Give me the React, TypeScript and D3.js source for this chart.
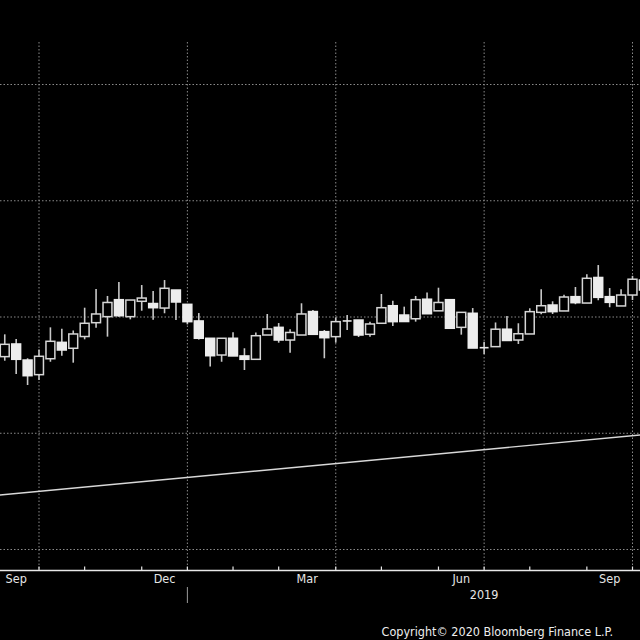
import React from "react";
import * as d3 from "d3";

// weekly bars, Mon Sep 10 2018 .. Mon Oct 7 2019
const firstWeek = new Date(2018, 8, 10);
const lastWeek = new Date(2019, 9, 7);

const opens = [26.59, 27.68, 26.3, 25.04, 26.41, 27.82, 27.31, 28.32, 29.51, 30.03, 31.49, 30.03, 31.35, 31.16, 30.77, 32.32, 31.09, 29.66, 28.17, 26.73, 28.17, 26.65, 26.36, 28.45, 29.11, 28.02, 28.45, 30.47, 28.74, 28.31, 29.66, 29.74, 28.51, 29.46, 30.97, 30.17, 29.85, 31.53, 30.53, 31.49, 29.11, 30.32, 27.36, 27.45, 28.95, 28.02, 28.54, 30.4, 31.03, 30.52, 31.75, 31.2, 33.4, 31.75, 30.95, 31.89, 33.18];
const closes = [27.65, 26.36, 24.95, 26.62, 27.91, 27.16, 28.54, 29.46, 30.26, 31.25, 30.11, 31.46, 31.63, 30.8, 32.47, 31.29, 29.6, 28.17, 26.67, 28.17, 26.65, 26.36, 28.39, 28.97, 28.02, 28.67, 30.26, 28.51, 28.22, 29.6, 29.66, 28.45, 29.4, 30.8, 29.6, 29.61, 31.49, 30.28, 31.25, 29.03, 30.4, 27.33, 27.36, 28.95, 27.98, 28.56, 30.46, 30.97, 30.46, 31.72, 31.23, 33.33, 31.69, 31.26, 31.89, 33.25, 32.32];
const highs = [28.51, 28.11, 26.45, 27.2, 29.11, 28.99, 28.84, 30.8, 32.41, 31.81, 33.01, 31.46, 32.75, 32.24, 33.18, 32.32, 31.09, 30.34, 28.17, 28.17, 28.68, 27.31, 28.67, 30.26, 29.48, 28.94, 31.18, 30.6, 28.88, 29.97, 30.17, 29.74, 29.6, 31.98, 31.4, 30.89, 31.81, 32.11, 32.52, 31.49, 30.4, 30.77, 27.88, 29.53, 30.09, 29.46, 30.75, 32.39, 31.35, 31.92, 32.58, 33.67, 34.47, 32.49, 32.39, 33.54, 33.35];
const lows = [26.24, 25.1, 24.15, 24.58, 26.15, 26.67, 26.07, 28.08, 29.08, 28.31, 30.03, 29.8, 30.54, 29.77, 30.32, 29.74, 29.37, 28.06, 25.74, 26.15, 26.65, 25.44, 26.36, 28.45, 27.79, 26.93, 28.45, 28.51, 26.45, 27.79, 28.88, 28.28, 28.31, 29.46, 29.23, 29.61, 29.6, 30.28, 30.53, 29.03, 28.48, 27.33, 26.82, 27.45, 27.98, 27.68, 28.54, 30.24, 30.26, 30.52, 31.1, 31.2, 31.44, 30.84, 30.95, 31.46, 32.15];

// trend line end points
const trendDates = [new Date(2018, 8, 3), new Date(2019, 9, 7)];
const trendValues = [14.63, 19.88];

const gridValues = [10, 20, 30, 40, 50];
const quarterStarts = [new Date(2018, 9, 1), new Date(2019, 0, 1), new Date(2019, 3, 1), new Date(2019, 6, 1), new Date(2019, 9, 1)];
const monthLabels = ["Sep", "Dec", "Mar", "Jun", "Sep"];
const monthLabelDates = [new Date(2018, 8, 1), new Date(2018, 11, 1), new Date(2019, 2, 1), new Date(2019, 5, 1), new Date(2019, 8, 1)];
const yearLabel = "2019";
const copyright = "Copyright\u00A9 2020 Bloomberg Finance L.P.";

const W = 640;
const H = 640;
const top = 42;
const axisY = 570.5;
const font = "'DejaVu Sans Condensed', 'Liberation Sans Narrow', sans-serif";

// Bloomberg snaps month boundaries onto the weekly bar
const snap = (d: Date) => {
  const day = d.getDay();
  return day === 0 || day === 6 ? d3.timeMonday.ceil(d) : d3.timeMonday.floor(d);
};

export default function App() {
  const x = d3.scaleTime().domain([new Date(2018, 9, 1), new Date(2019, 8, 30)]).range([39, 632.5]);
  const y = d3.scaleLinear().domain([10, 50]).range([549.5, 84.5]);

  const weeks = d3.timeMonday.range(firstWeek, d3.timeDay.offset(lastWeek, 1));
  const bars = weeks.map((d, i) => ({ date: d, o: opens[i], c: closes[i], h: highs[i], l: lows[i] }));
  const step = x(d3.timeWeek.offset(firstWeek, 1)) - x(firstWeek);
  const bw = step * 0.78;

  const monthTicks = d3.timeMonth.range(new Date(2018, 8, 1), new Date(2019, 10, 1)).map(snap);
  const line = d3.line<number>().x((_, i) => x(trendDates[i])).y((v) => y(v));

  return (
    <svg width={W} height={H} style={{ position: "fixed", left: 0, top: 0, background: "#000" }}>
      <defs>
        <clipPath id="plot">
          <rect x={0} y={top} width={W} height={axisY - top} />
        </clipPath>
      </defs>
      <rect width={W} height={H} fill="#000" />

      {/* grid */}
      {gridValues.map((v) => (
        <line key={v} x1={0} x2={W} y1={y(v)} y2={y(v)} stroke="#8a8a8a" strokeWidth={1} strokeDasharray="1.5,2" />
      ))}
      {quarterStarts.map((d, i) => (
        <line key={i} x1={x(snap(d))} x2={x(snap(d))} y1={top} y2={axisY} stroke="#8a8a8a" strokeWidth={1} strokeDasharray="1.5,2" />
      ))}

      <g clipPath="url(#plot)">
        <path d={line(trendValues) || ""} stroke="#d8d8d8" strokeWidth={1.4} fill="none" />
        {bars.map((b, i) => {
          const cx = x(b.date);
          const up = b.c >= b.o;
          const doji = Math.abs(b.c - b.o) < 0.05;
          const yt = y(Math.max(b.o, b.c));
          const yb = y(Math.min(b.o, b.c));
          return (
            <g key={i}>
              <line x1={cx} x2={cx} y1={y(b.h)} y2={y(b.l)} stroke="#c8c8c8" strokeWidth={1.6} />
              {doji ? (
                <line x1={cx - bw / 2} x2={cx + bw / 2} y1={yt} y2={yt} stroke="#e6e6e6" strokeWidth={1.6} />
              ) : (
                <rect
                  x={cx - bw / 2}
                  y={yt}
                  width={bw}
                  height={Math.max(1, yb - yt)}
                  fill={up ? "#000" : "#ededed"}
                  stroke={up ? "#d6d6d6" : "#ededed"}
                  strokeWidth={1.5}
                />
              )}
            </g>
          );
        })}
      </g>

      {/* x axis */}
      <line x1={0} x2={W} y1={axisY} y2={axisY} stroke="#e8e8e8" strokeWidth={1.5} />
      {monthTicks.map((d, i) => (
        <line key={i} x1={x(d)} x2={x(d)} y1={axisY - 4} y2={axisY} stroke="#e8e8e8" strokeWidth={1.2} />
      ))}
      {monthLabelDates.map((d, i) => {
        const x0 = x(snap(d));
        const x1 = x(snap(d3.timeMonth.offset(d, 1)));
        return (
          <text key={i} x={(x0 + x1) / 2} y={583} textAnchor="middle" fill="#e6e6e6" fontSize={12.5} fontFamily={font}>
            {monthLabels[i]}
          </text>
        );
      })}
      <line x1={x(snap(new Date(2019, 0, 1)))} x2={x(snap(new Date(2019, 0, 1)))} y1={587} y2={603} stroke="#9a9a9a" strokeWidth={1} />
      <text x={x(snap(new Date(2019, 6, 1)))} y={599} textAnchor="middle" fill="#e6e6e6" fontSize={12.5} fontFamily={font}>
        {yearLabel}
      </text>
      <text x={613} y={636} textAnchor="end" fill="#eeeeee" fontSize={12.5} fontFamily={font}>
        {copyright}
      </text>
    </svg>
  );
}
